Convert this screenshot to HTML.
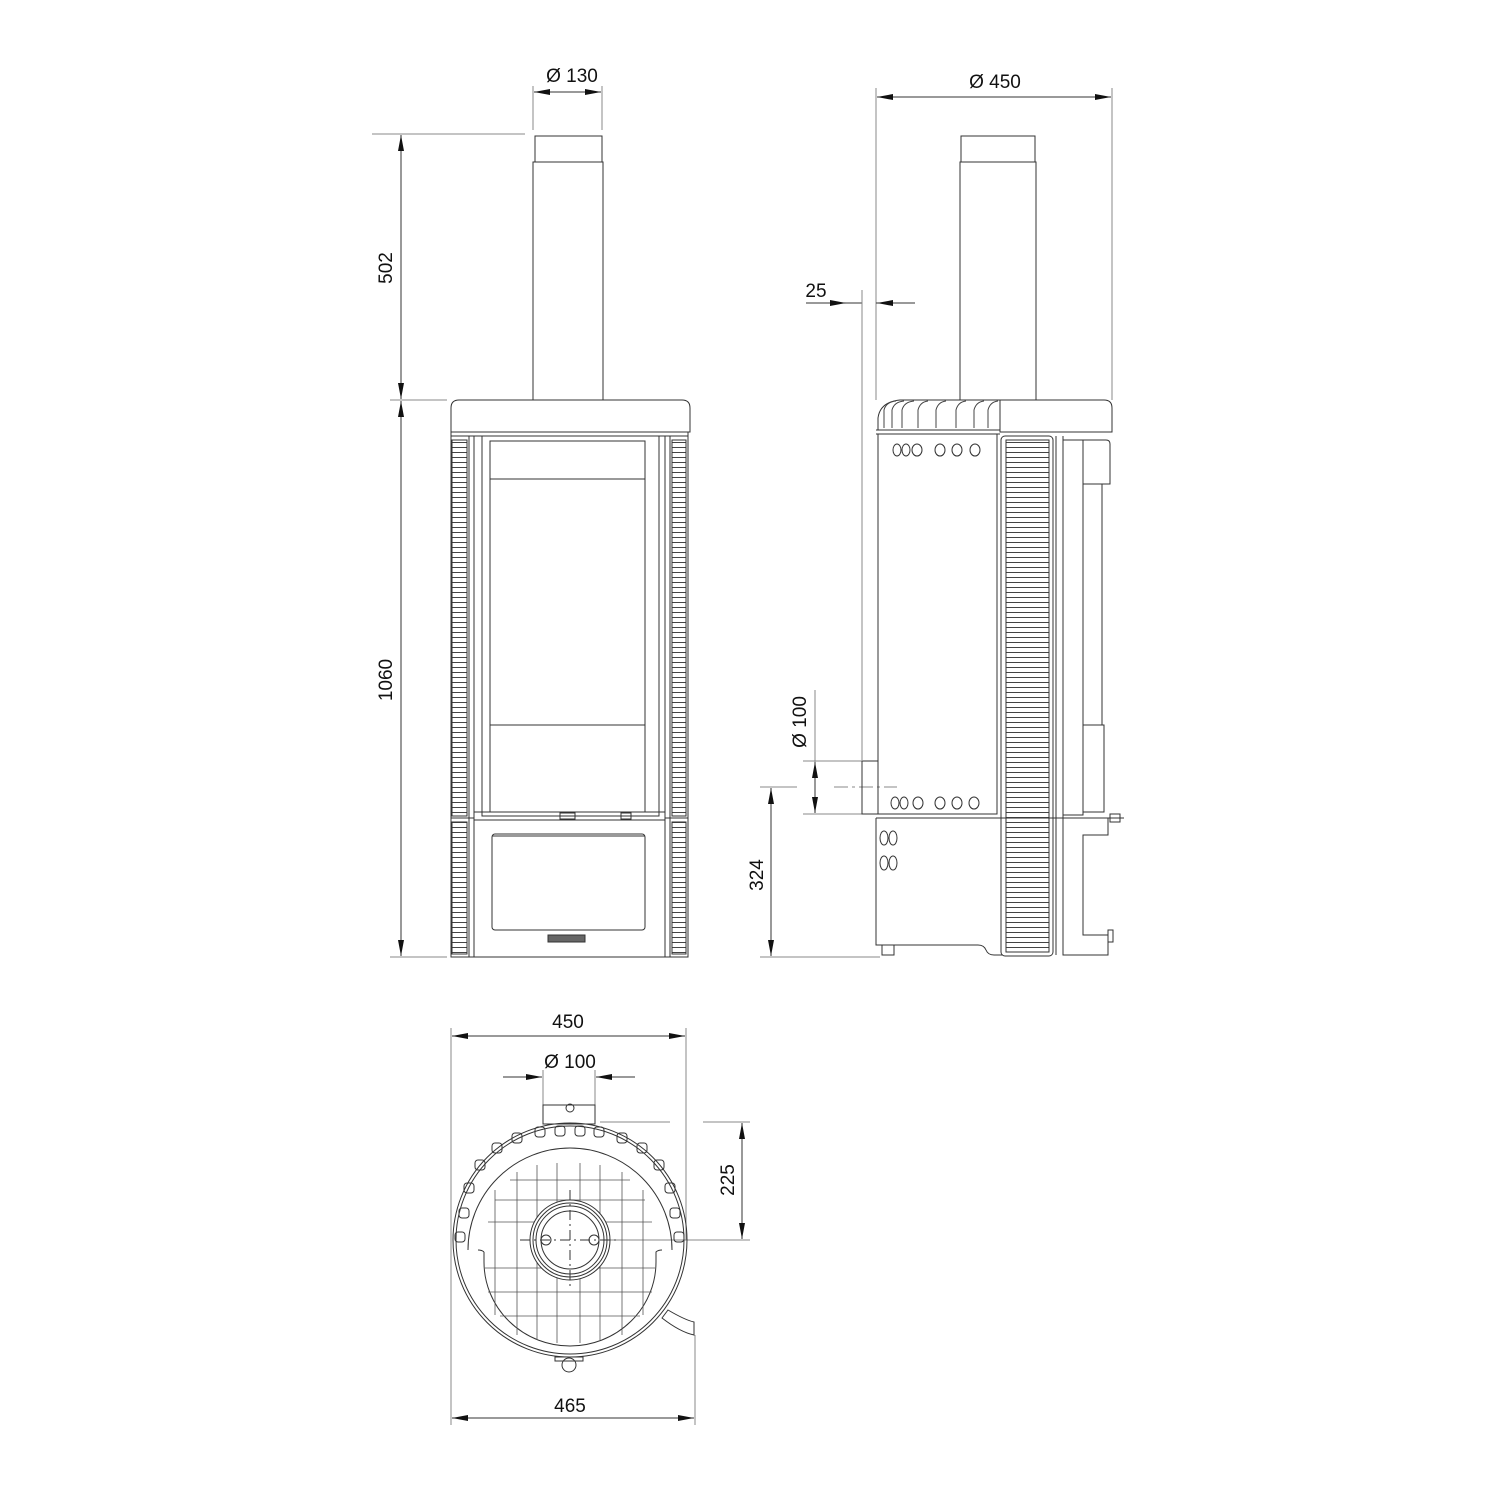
<!DOCTYPE html>
<html><head><meta charset="utf-8"><style>
html,body{margin:0;padding:0;background:#fff}
svg{display:block}
text{font-family:"Liberation Sans",sans-serif;font-size:19px;fill:#111}
</style></head><body>
<svg width="1500" height="1500" viewBox="0 0 1500 1500" xmlns="http://www.w3.org/2000/svg">
<defs>
<pattern id="lv" x="0" y="0" width="20" height="5" patternUnits="userSpaceOnUse">
<line x1="0" y1="2.5" x2="20" y2="2.5" stroke="#444" stroke-width="0.9"/>
</pattern>
<marker id="a" viewBox="0 0 16 6" refX="16" refY="3" markerWidth="16" markerHeight="6" orient="auto-start-reverse" markerUnits="userSpaceOnUse">
<path d="M0,0 L16,3 L0,6 z" fill="#111"/>
</marker>
</defs>
<g fill="none" stroke="#888" stroke-width="1">
<line x1="533" y1="86" x2="533" y2="130"/><line x1="602" y1="86" x2="602" y2="130"/>
<line x1="534" y1="92" x2="601" y2="92" marker-start="url(#a)" marker-end="url(#a)" stroke="#333"/>
<line x1="372" y1="134" x2="525" y2="134"/>
<line x1="390" y1="400" x2="447" y2="400"/>
<line x1="390" y1="957" x2="447" y2="957"/>
<line x1="401" y1="135" x2="401" y2="399" marker-start="url(#a)" marker-end="url(#a)" stroke="#333"/>
<line x1="401" y1="401" x2="401" y2="956" marker-start="url(#a)" marker-end="url(#a)" stroke="#333"/>
<line x1="876" y1="88" x2="876" y2="400"/><line x1="1112" y1="88" x2="1112" y2="400"/>
<line x1="877" y1="97" x2="1111" y2="97" marker-start="url(#a)" marker-end="url(#a)" stroke="#333"/>
<line x1="806" y1="303" x2="846" y2="303" marker-end="url(#a)" stroke="#333"/>
<line x1="846" y1="303" x2="862" y2="303" stroke="#333"/>
<line x1="876" y1="303" x2="915" y2="303" stroke="#333"/>
<line x1="892" y1="303" x2="877" y2="303" marker-end="url(#a)" stroke="#333"/>
<line x1="862" y1="290" x2="862" y2="760"/>
<line x1="815" y1="690" x2="815" y2="812" />
<line x1="815" y1="762" x2="815" y2="813" marker-start="url(#a)" marker-end="url(#a)" stroke="#333"/>
<line x1="803" y1="761" x2="862" y2="761"/><line x1="803" y1="814" x2="862" y2="814"/>
<line x1="760" y1="787" x2="797" y2="787"/>
<line x1="834" y1="787" x2="897" y2="787" stroke-dasharray="14,4,3,4"/>
<line x1="771" y1="788" x2="771" y2="956" marker-start="url(#a)" marker-end="url(#a)" stroke="#333"/>
<line x1="760" y1="957" x2="880" y2="957"/>
<line x1="451" y1="1028" x2="451" y2="1425"/><line x1="686" y1="1028" x2="686" y2="1240"/>
<line x1="452" y1="1036" x2="685" y2="1036" marker-start="url(#a)" marker-end="url(#a)" stroke="#333"/>
<line x1="503" y1="1077" x2="542" y2="1077" marker-end="url(#a)" stroke="#333"/>
<line x1="635" y1="1077" x2="596" y2="1077" marker-end="url(#a)" stroke="#333"/>
<line x1="543" y1="1070" x2="543" y2="1105"/><line x1="595" y1="1070" x2="595" y2="1105"/>
<line x1="600" y1="1122" x2="670" y2="1122"/><line x1="703" y1="1122" x2="750" y2="1122"/>
<line x1="600" y1="1240" x2="750" y2="1240"/>
<line x1="742" y1="1123" x2="742" y2="1239" marker-start="url(#a)" marker-end="url(#a)" stroke="#333"/>
<line x1="695" y1="1335" x2="695" y2="1425"/>
<line x1="452" y1="1418" x2="694" y2="1418" marker-start="url(#a)" marker-end="url(#a)" stroke="#333"/>
</g>
<text x="572" y="82" text-anchor="middle">Ø 130</text>
<text x="995" y="88" text-anchor="middle">Ø 450</text>
<text x="816" y="297" text-anchor="middle">25</text>
<text transform="translate(392,268) rotate(-90)" text-anchor="middle">502</text>
<text transform="translate(392,680) rotate(-90)" text-anchor="middle">1060</text>
<text transform="translate(806,722) rotate(-90)" text-anchor="middle">Ø 100</text>
<text transform="translate(763,875) rotate(-90)" text-anchor="middle">324</text>
<text transform="translate(734,1180) rotate(-90)" text-anchor="middle">225</text>
<text x="568" y="1028" text-anchor="middle">450</text>
<text x="570" y="1068" text-anchor="middle">Ø 100</text>
<text x="570" y="1412" text-anchor="middle">465</text>

<g fill="none" stroke="#333" stroke-width="1">
<rect x="535" y="136" width="67" height="26"/>
<rect x="533" y="162" width="70" height="238"/>
<path d="M451,432 V408 Q451,400 459,400 H682 Q690,400 690,408 V432 Z"/>
<rect x="451" y="432" width="237" height="525"/>
<rect x="452" y="440" width="15" height="376" fill="url(#lv)"/>
<rect x="452" y="822" width="15" height="132" fill="url(#lv)"/>
<rect x="672" y="440" width="14" height="376" fill="url(#lv)"/>
<rect x="672" y="822" width="14" height="132" fill="url(#lv)"/>
<line x1="469" y1="436" x2="469" y2="957"/><line x1="474" y1="436" x2="474" y2="957"/>
<line x1="665" y1="436" x2="665" y2="957"/><line x1="670" y1="436" x2="670" y2="957"/>
<line x1="451" y1="436" x2="688" y2="436"/>
<rect x="482" y="436" width="177" height="380"/>
<rect x="490" y="441" width="155" height="371"/>
<line x1="490" y1="479" x2="645" y2="479"/>
<line x1="490" y1="725" x2="645" y2="725"/>
<line x1="474" y1="812" x2="665" y2="812"/><line x1="474" y1="820" x2="665" y2="820"/>
<line x1="451" y1="818" x2="474" y2="818"/><line x1="665" y1="818" x2="688" y2="818"/>
<rect x="560" y="813" width="15" height="6"/>
<rect x="621" y="813" width="10" height="6"/>
<rect x="492" y="834" width="153" height="96" rx="3"/>
<line x1="492" y1="836" x2="645" y2="836"/>
<rect x="548" y="935" width="37" height="7" fill="#666"/>

<rect x="961" y="136" width="74" height="26"/>
<rect x="960" y="162" width="76" height="238"/>
<path d="M1000,432 V400 H1104 Q1112,400 1112,408 V432 Z"/>
<path d="M878,430 V418 Q880,402 900,400 H1000"/>
<g stroke="#444">
<path d="M884,428 V410 Q886,402 896,401"/><path d="M892,428 V410 Q894,402 904,401"/>
<path d="M902,428 V410 Q904,402 914,401"/><path d="M918,428 V410 Q920,402 928,401"/>
<path d="M936,428 V410 Q938,402 946,401"/><path d="M956,428 V410 Q958,402 966,401"/>
<path d="M974,428 V410 Q976,402 984,401"/><path d="M988,428 V410 Q990,402 998,401"/>
</g>
<line x1="876" y1="430" x2="1000" y2="430"/><line x1="876" y1="434" x2="1000" y2="434"/>
<rect x="878" y="434" width="119" height="380"/>
<g>
<ellipse cx="897" cy="450" rx="4" ry="6"/><ellipse cx="906" cy="450" rx="4" ry="6"/><ellipse cx="917" cy="450" rx="5" ry="6"/>
<ellipse cx="940" cy="450" rx="5" ry="6"/><ellipse cx="957" cy="450" rx="5" ry="6"/><ellipse cx="975" cy="450" rx="5" ry="6"/>
<ellipse cx="895" cy="803" rx="4" ry="6"/><ellipse cx="904" cy="803" rx="4" ry="6"/><ellipse cx="918" cy="803" rx="5" ry="6"/>
<ellipse cx="940" cy="803" rx="5" ry="6"/><ellipse cx="957" cy="803" rx="5" ry="6"/><ellipse cx="974" cy="803" rx="5" ry="6"/>
<ellipse cx="884" cy="838" rx="4" ry="7"/><ellipse cx="893" cy="838" rx="4" ry="7"/>
<ellipse cx="884" cy="863" rx="4" ry="7"/><ellipse cx="893" cy="863" rx="4" ry="7"/>
</g>
<rect x="862" y="761" width="16" height="53"/>
<path d="M876,818 H1003 M876,818 V945 H978 Q984,945 986,950 Q988,955 994,955 H1003"/>
<rect x="882" y="945" width="12" height="10"/>
<rect x="1001" y="436" width="52" height="520" rx="4"/>
<rect x="1006" y="440" width="43" height="512" fill="url(#lv)"/>
<line x1="1056" y1="436" x2="1056" y2="955"/><line x1="1063" y1="436" x2="1063" y2="955"/>
<line x1="1003" y1="818" x2="1120" y2="818"/>
<rect x="1063" y="440" width="20" height="375"/>
<path d="M1083,440 H1106 Q1110,440 1110,444 V484 H1083"/>
<line x1="1083" y1="484" x2="1102" y2="484"/><line x1="1102" y1="484" x2="1102" y2="725"/>
<path d="M1083,725 H1104 V812 H1083"/>
<path d="M1063,818 V955 H1108 V935 H1083 V835 H1108 V818"/>
<path d="M1108,818 L1124,818" /><rect x="1110" y="814" width="10" height="8"/>
<rect x="1108" y="930" width="5" height="12"/>

<rect x="543" y="1105" width="52" height="19"/>
<circle cx="570" cy="1108" r="4"/>
<circle cx="570" cy="1240" r="117"/>
<circle cx="570" cy="1240" r="114"/>
<path d="M468,1250 A102,102 0 1 1 672,1250"/>
<path d="M484,1252 V1262 A86,84 0 0 0 656,1262 V1252 Q658,1250 662,1250 M484,1252 Q482,1250 478,1250"/>
<g stroke="#555" stroke-width="0.8">
<line x1="495" y1="1190" x2="495" y2="1315"/><line x1="517" y1="1172" x2="517" y2="1335"/>
<line x1="537" y1="1165" x2="537" y2="1340"/><line x1="557" y1="1163" x2="557" y2="1343"/>
<line x1="580" y1="1163" x2="580" y2="1343"/><line x1="600" y1="1165" x2="600" y2="1340"/>
<line x1="622" y1="1172" x2="622" y2="1335"/><line x1="643" y1="1190" x2="643" y2="1315"/>
<line x1="510" y1="1180" x2="630" y2="1180"/><line x1="495" y1="1200" x2="645" y2="1200"/>
<line x1="488" y1="1222" x2="652" y2="1222"/><line x1="485" y1="1268" x2="655" y2="1268"/>
<line x1="488" y1="1292" x2="652" y2="1292"/><line x1="500" y1="1316" x2="640" y2="1316"/>
</g>
<circle cx="570" cy="1240" r="40" fill="#fff"/>
<circle cx="570" cy="1240" r="37"/><circle cx="570" cy="1240" r="34"/><circle cx="570" cy="1240" r="29"/>
<circle cx="546" cy="1240" r="5"/><circle cx="594" cy="1240" r="5"/>
<line x1="520" y1="1240" x2="620" y2="1240" stroke-dasharray="10,4,2,4"/>
<line x1="570" y1="1190" x2="570" y2="1290" stroke-dasharray="10,4,2,4"/>
<g>
<rect x="455" y="1232" width="10" height="10" rx="3"/><rect x="459" y="1208" width="10" height="10" rx="3"/>
<rect x="464" y="1183" width="10" height="10" rx="3"/><rect x="475" y="1160" width="10" height="10" rx="3"/>
<rect x="492" y="1143" width="10" height="10" rx="3"/><rect x="512" y="1133" width="10" height="10" rx="3"/>
<rect x="535" y="1127" width="10" height="10" rx="3"/><rect x="555" y="1126" width="10" height="10" rx="3"/>
<rect x="575" y="1126" width="10" height="10" rx="3"/><rect x="594" y="1127" width="10" height="10" rx="3"/>
<rect x="617" y="1133" width="10" height="10" rx="3"/><rect x="637" y="1143" width="10" height="10" rx="3"/>
<rect x="654" y="1160" width="10" height="10" rx="3"/><rect x="665" y="1183" width="10" height="10" rx="3"/>
<rect x="670" y="1208" width="10" height="10" rx="3"/><rect x="674" y="1232" width="10" height="10" rx="3"/>
</g>
<path d="M662,1318 L668,1310 Q685,1320 694,1322 L694,1335 Q680,1332 662,1318 Z"/>
<rect x="555" y="1357" width="28" height="4"/><circle cx="569" cy="1365" r="7"/>
</g>
</svg>
</body></html>
